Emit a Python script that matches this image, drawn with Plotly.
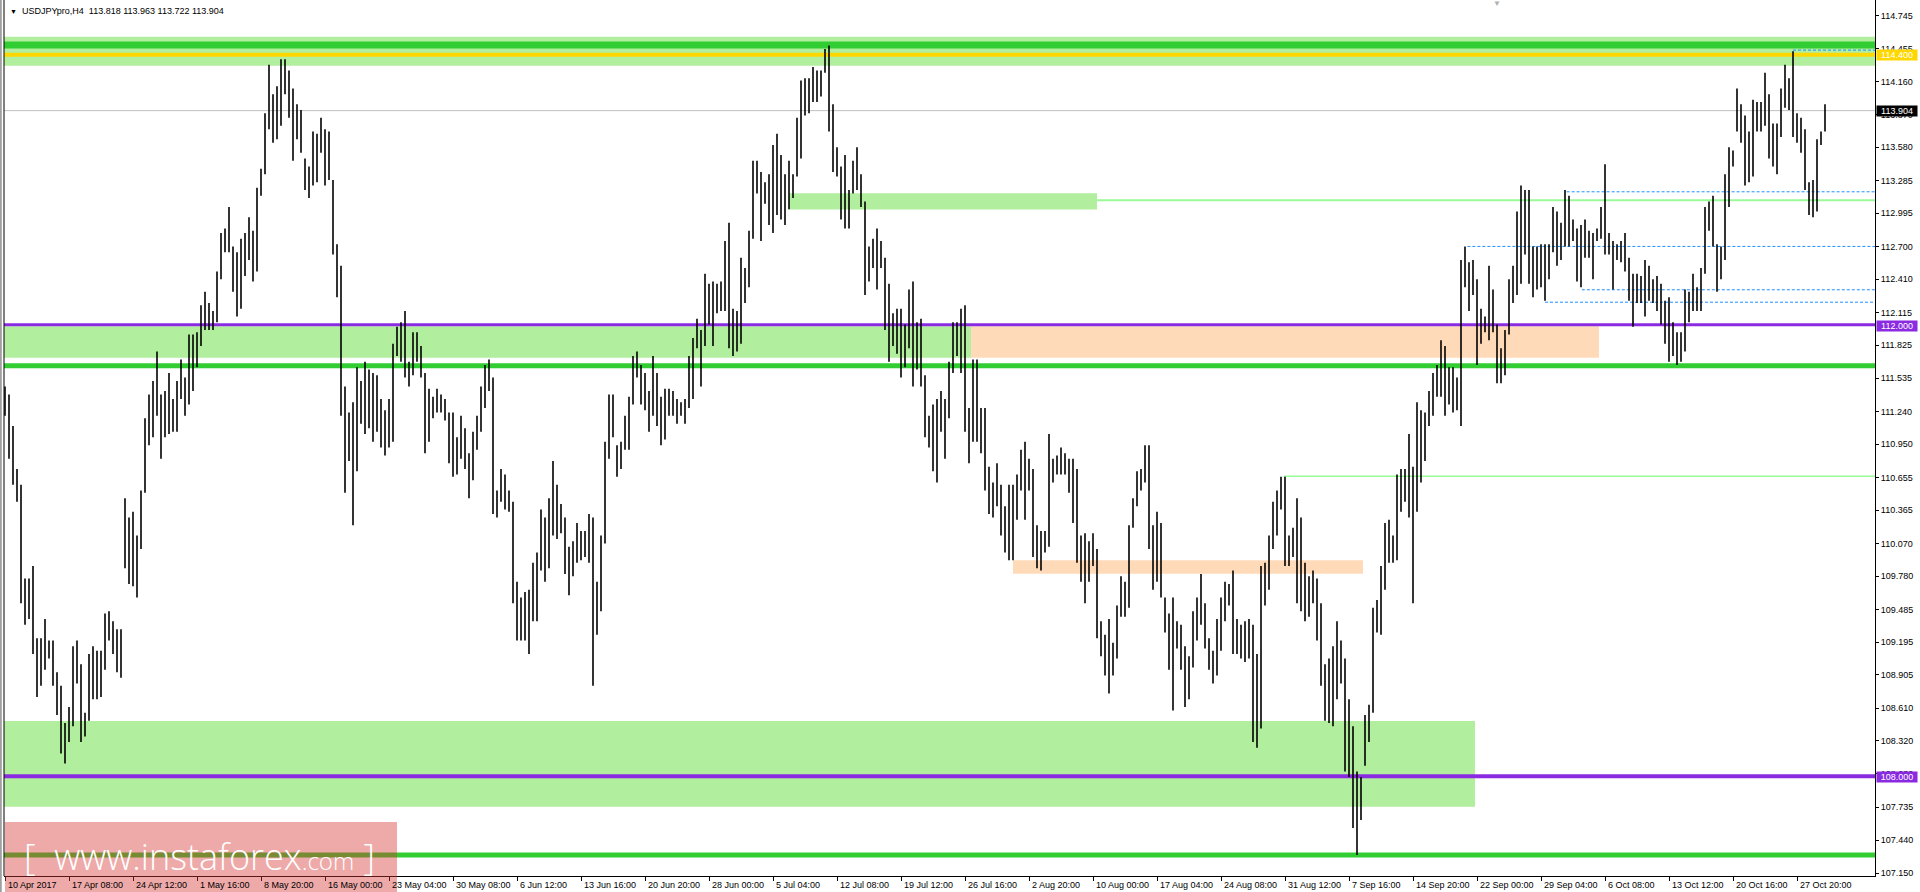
import plotly.graph_objects as go

# ---------------- data ----------------
chart_title = "USDJPYpro,H4\u00a0\u00a0113.818 113.963 113.722 113.904"

tick_labels = ["10 Apr 2017", "17 Apr 08:00", "24 Apr 12:00", "1 May 16:00", "8 May 20:00",
               "16 May 00:00", "23 May 04:00", "30 May 08:00", "6 Jun 12:00", "13 Jun 16:00",
               "20 Jun 20:00", "28 Jun 00:00", "5 Jul 04:00", "12 Jul 08:00", "19 Jul 12:00",
               "26 Jul 16:00", "2 Aug 20:00", "10 Aug 00:00", "17 Aug 04:00", "24 Aug 08:00",
               "31 Aug 12:00", "7 Sep 16:00", "14 Sep 20:00", "22 Sep 00:00", "29 Sep 04:00",
               "6 Oct 08:00", "13 Oct 12:00", "20 Oct 16:00", "27 Oct 20:00"]
bars_per_label = 16

highs = [
    111.46, 111.39, 111.11, 110.73, 110.59, 109.76, 109.76, 109.87, 109.23, 109.23,  # 0
    109.40, 109.21, 109.21, 108.93, 108.81, 108.48, 108.62, 109.16, 109.21, 109.00,  # 10
    108.57, 109.09, 109.16, 109.12, 109.12, 109.45, 109.47, 109.38, 109.31, 109.31,  # 20
    110.47, 110.30, 110.35, 110.14, 110.54, 111.18, 111.39, 111.51, 111.77, 111.39,  # 30
    111.42, 111.58, 111.35, 111.51, 111.70, 111.54, 111.92, 111.92, 111.94, 112.18,  # 40
    112.30, 112.20, 112.13, 112.48, 112.82, 112.86, 113.05, 112.70, 112.65, 112.77,  # 50
    112.82, 112.96, 112.84, 113.22, 113.39, 113.88, 114.31, 114.05, 114.12, 114.36,  # 60
    114.36, 114.26, 114.10, 113.96, 113.91, 113.48, 113.41, 113.72, 113.70, 113.84,  # 70
    113.74, 113.72, 113.29, 112.72, 112.53, 111.46, 111.23, 111.32, 111.63, 111.51,  # 80
    111.68, 111.61, 111.58, 111.56, 111.35, 111.25, 111.35, 111.84, 111.99, 112.03,  # 90
    112.13, 111.68, 111.94, 111.94, 111.82, 111.58, 111.44, 111.37, 111.44, 111.39,  # 100
    111.35, 111.23, 111.23, 111.01, 111.20, 111.09, 110.87, 111.06, 111.20, 111.46,  # 110
    111.65, 111.70, 111.54, 110.54, 110.73, 110.68, 110.54, 110.44, 109.73, 109.59,  # 120
    109.64, 109.66, 109.90, 109.99, 110.37, 110.30, 110.47, 110.80, 110.59, 110.42,  # 130
    110.30, 110.04, 110.09, 110.25, 110.18, 110.18, 110.33, 110.30, 109.73, 110.14,  # 140
    110.97, 111.39, 111.39, 110.94, 110.97, 111.20, 111.37, 111.73, 111.77, 111.65,  # 150
    111.58, 111.42, 111.73, 111.58, 111.37, 111.44, 111.44, 111.42, 111.35, 111.32,  # 160
    111.35, 111.73, 111.89, 112.06, 111.96, 112.46, 112.37, 112.39, 112.37, 112.39,  # 170
    112.75, 112.91, 112.15, 112.13, 112.60, 112.51, 112.84, 113.46, 113.46, 113.36,  # 180
    113.27, 113.34, 113.60, 113.70, 113.51, 113.34, 113.46, 113.34, 113.84, 114.17,  # 190
    114.19, 114.19, 114.29, 114.26, 114.26, 114.45, 114.48, 113.96, 113.58, 113.41,  # 200
    113.51, 113.20, 113.46, 113.58, 113.34, 113.10, 112.70, 112.77, 112.86, 112.75,  # 210
    112.60, 112.37, 112.11, 112.15, 112.15, 112.01, 112.32, 112.39, 112.03, 112.06,  # 220
    111.56, 111.20, 111.30, 111.35, 111.42, 111.35, 111.68, 112.03, 112.03, 112.15,  # 230
    112.18, 111.27, 111.70, 111.70, 111.27, 111.27, 110.75, 110.61, 110.78, 110.59,  # 240
    110.40, 110.59, 110.59, 110.68, 110.90, 110.97, 110.82, 110.73, 110.23, 110.18,  # 250
    110.18, 111.04, 110.82, 110.85, 110.92, 110.87, 110.82, 110.82, 110.73, 110.14,  # 260
    110.16, 110.09, 110.16, 110.02, 109.38, 109.26, 109.40, 109.19, 109.52, 109.78,  # 270
    109.73, 110.23, 110.47, 110.71, 110.73, 110.94, 110.94, 110.23, 110.35, 110.25,  # 280
    109.59, 109.45, 109.59, 109.38, 109.35, 109.16, 109.07, 109.47, 109.59, 109.80,  # 290
    109.54, 109.23, 109.12, 109.40, 109.59, 109.73, 109.71, 109.83, 109.40, 109.35,  # 300
    109.38, 109.40, 109.35, 109.09, 109.87, 109.90, 110.14, 110.44, 110.54, 110.66,  # 310
    110.66, 110.14, 110.21, 110.47, 110.30, 109.90, 109.78, 109.83, 109.76, 109.54,  # 320
    109.00, 109.05, 109.16, 109.38, 109.21, 109.05, 108.69, 108.45, 108.05, 108.00,  # 330
    108.55, 108.64, 109.50, 109.57, 109.87, 110.25, 110.28, 110.14, 110.68, 110.73,  # 340
    110.73, 111.04, 110.75, 111.32, 111.25, 111.23, 111.42, 111.58, 111.65, 111.87,  # 350
    111.82, 111.63, 111.63, 111.54, 112.58, 112.70, 112.56, 112.58, 112.41, 112.15,  # 360
    112.08, 112.53, 112.32, 112.01, 111.80, 111.96, 112.41, 112.53, 113.01, 113.24,  # 370
    113.20, 113.20, 112.70, 112.70, 112.72, 112.72, 112.72, 113.05, 113.01, 112.91,  # 380
    113.20, 113.15, 112.94, 112.86, 112.89, 112.94, 112.84, 112.82, 112.86, 113.05,  # 390
    113.43, 112.82, 112.75, 112.72, 112.75, 112.82, 112.60, 112.46, 112.46, 112.44,  # 400
    112.58, 112.53, 112.41, 112.44, 112.37, 112.22, 112.25, 112.03, 111.94, 111.94,  # 410
    112.32, 112.30, 112.46, 112.34, 112.51, 113.05, 113.10, 113.15, 112.72, 112.70,  # 420
    113.34, 113.58, 113.55, 114.10, 113.96, 113.86, 113.72, 114.00, 113.98, 113.98,  # 430
    114.24, 114.05, 113.79, 113.79, 114.10, 114.31, 114.19, 114.43, 113.88, 113.84,  # 440
    113.74, 113.27, 113.29, 113.65, 113.72, 113.96,                                  # 450
]

lows = [
    111.20, 110.82, 110.59, 110.44, 109.54, 109.35, 109.40, 109.09, 108.71, 108.81,  # 0
    108.95, 109.05, 108.81, 108.55, 108.21, 108.12, 108.31, 108.45, 108.83, 108.31,  # 10
    108.36, 108.50, 108.69, 108.69, 108.71, 108.95, 109.21, 109.09, 108.93, 108.88,  # 20
    109.85, 109.71, 109.69, 109.59, 110.02, 110.52, 110.94, 111.01, 111.20, 110.82,  # 30
    111.01, 111.04, 111.06, 111.06, 111.35, 111.20, 111.30, 111.42, 111.63, 111.82,  # 40
    111.96, 111.96, 111.96, 112.03, 112.41, 112.65, 112.65, 112.30, 112.08, 112.15,  # 50
    112.44, 112.58, 112.39, 112.48, 113.15, 113.34, 113.74, 113.62, 113.65, 113.77,  # 60
    114.05, 113.84, 113.46, 113.65, 113.53, 113.20, 113.13, 113.24, 113.27, 113.53,  # 70
    113.24, 113.29, 112.63, 112.25, 111.20, 110.52, 110.80, 110.23, 110.71, 111.13,  # 80
    111.04, 111.09, 110.97, 111.06, 110.92, 110.85, 110.92, 110.97, 111.73, 111.68,  # 90
    111.54, 111.46, 111.56, 111.68, 111.54, 110.87, 110.97, 111.18, 111.23, 111.23,  # 100
    111.16, 110.78, 110.66, 110.68, 110.82, 110.73, 110.47, 110.63, 110.90, 111.06,  # 110
    111.27, 111.42, 110.33, 110.30, 110.44, 110.37, 110.35, 109.54, 109.21, 109.21,  # 120
    109.21, 109.09, 109.38, 109.38, 109.83, 109.73, 109.85, 110.14, 110.11, 110.16,  # 130
    109.80, 109.61, 109.78, 109.90, 109.92, 109.95, 109.90, 108.81, 109.26, 109.47,  # 140
    110.07, 110.82, 111.01, 110.66, 110.73, 110.90, 110.90, 111.30, 111.54, 111.30,  # 150
    111.25, 111.06, 111.20, 111.11, 110.94, 110.99, 111.20, 111.20, 111.13, 111.20,  # 160
    111.13, 111.27, 111.35, 111.80, 111.46, 111.82, 112.01, 111.82, 112.11, 112.13,  # 170
    112.13, 111.80, 111.73, 111.77, 111.84, 112.20, 112.34, 112.77, 113.17, 112.75,  # 180
    113.08, 112.89, 112.82, 112.98, 112.94, 112.89, 113.03, 113.13, 113.32, 113.48,  # 190
    113.86, 113.88, 113.98, 113.98, 114.03, 114.24, 113.72, 113.36, 113.32, 112.94,  # 200
    112.86, 112.86, 113.17, 113.20, 113.05, 112.27, 112.39, 112.51, 112.32, 112.51,  # 210
    111.96, 111.68, 111.82, 111.75, 111.54, 111.63, 111.80, 111.46, 111.61, 111.46,  # 220
    111.01, 110.92, 110.71, 110.61, 111.06, 110.82, 111.18, 111.58, 111.73, 111.58,  # 230
    111.06, 110.78, 110.97, 110.97, 110.87, 110.54, 110.33, 110.30, 110.40, 110.14,  # 240
    109.99, 109.92, 109.92, 110.28, 110.54, 110.28, 110.54, 109.95, 109.85, 109.83,  # 250
    109.99, 110.04, 110.61, 110.68, 110.68, 110.68, 110.52, 110.25, 109.90, 109.73,  # 260
    109.54, 109.73, 109.87, 109.23, 109.07, 108.90, 108.74, 108.90, 109.05, 109.42,  # 270
    109.42, 109.50, 110.21, 110.40, 110.54, 110.61, 110.02, 109.66, 109.73, 109.59,  # 280
    109.28, 108.95, 108.59, 109.14, 108.95, 108.62, 108.69, 108.97, 109.21, 109.35,  # 290
    109.14, 108.95, 108.83, 108.90, 109.12, 109.38, 109.52, 109.09, 109.09, 109.05,  # 300
    109.02, 109.05, 108.31, 108.26, 108.43, 109.52, 109.66, 110.02, 110.14, 110.37,  # 310
    109.87, 109.87, 109.95, 109.54, 109.47, 109.38, 109.42, 109.54, 109.21, 108.81,  # 320
    108.50, 108.48, 108.45, 108.69, 108.83, 108.05, 108.00, 107.55, 107.31, 107.62,  # 330
    108.10, 108.31, 108.57, 109.28, 109.26, 109.66, 109.90, 109.90, 109.92, 110.35,  # 340
    110.44, 110.30, 109.54, 110.35, 110.61, 110.80, 111.11, 111.20, 111.37, 111.37,  # 350
    111.20, 111.30, 111.23, 111.25, 111.11, 112.34, 112.13, 112.27, 111.65, 111.84,  # 360
    111.94, 111.87, 111.94, 111.49, 111.49, 111.56, 111.92, 112.20, 112.27, 112.37,  # 370
    112.63, 112.37, 112.25, 112.32, 112.34, 112.22, 112.41, 112.65, 112.53, 112.58,  # 380
    112.70, 112.70, 112.75, 112.39, 112.34, 112.60, 112.60, 112.41, 112.75, 112.77,  # 390
    112.63, 112.63, 112.32, 112.58, 112.56, 112.48, 112.22, 111.99, 112.20, 112.20,  # 400
    112.08, 112.22, 112.20, 112.13, 112.01, 111.84, 111.68, 111.73, 111.65, 111.68,  # 410
    111.77, 112.03, 112.13, 112.13, 112.13, 112.46, 112.84, 112.70, 112.30, 112.41,  # 420
    112.58, 113.05, 113.41, 113.72, 113.62, 113.24, 113.27, 113.32, 113.72, 113.72,  # 430
    113.77, 113.48, 113.41, 113.34, 113.67, 113.93, 113.91, 113.67, 113.62, 113.53,  # 440
    113.20, 112.98, 112.96, 113.01, 113.60, 113.72,                                  # 450
]

price_ticks = [114.745, 114.455, 114.160, 113.870, 113.580, 113.285, 112.995, 112.700,
               112.410, 112.115, 111.825, 111.535, 111.240, 110.950, 110.655, 110.365,
               110.070, 109.780, 109.485, 109.195, 108.905, 108.610, 108.320, 108.030,
               107.735, 107.440, 107.150]

current_price = 113.904
level_labels = [(114.400, "#FFD700"), (113.904, "#000000"), (112.000, "#8A2BE2"), (108.000, "#8A2BE2")]

# ---------------- layout constants ----------------
W, H = 1920, 892
ML, MR, MT, MB = 4, 45, 0, 16
X_RANGE = [-0.25, 467.5]
Y_RANGE = [107.124, 114.884]
FONT = "Tahoma, 'Liberation Sans', Arial, sans-serif"

LIGHT_GREEN = "#B1EE9E"
LIME = "#32CD32"
PALE = "#98FB98"
PEACH = "#FFDAB9"
PURPLE = "#8A2BE2"
BLUE = "#1E90FF"

# ---------------- bars ----------------
bx, by = [], []
for i, (hi, lo) in enumerate(zip(highs, lows)):
    bx += [i, i, None]
    by += [lo, hi, None]

fig = go.Figure()
fig.add_trace(go.Scatter(x=bx, y=by, mode="lines",
                         line=dict(color="black", width=1.6),
                         hoverinfo="skip", showlegend=False))

shapes = []


def band(y0, y1, color, x0=None, x1=None):
    if x0 is None:
        x0 = X_RANGE[0]
    if x1 is None:
        x1 = X_RANGE[1]
    shapes.append(dict(type="rect", xref="x", yref="y", x0=x0, x1=x1, y0=y0, y1=y1,
                       fillcolor=color, line=dict(width=0), layer="below"))


def hline(y, color, width, x0=None, x1=None, dash="solid"):
    if x0 is None:
        x0 = X_RANGE[0]
    if x1 is None:
        x1 = X_RANGE[1]
    shapes.append(dict(type="line", xref="x", yref="y", x0=x0, x1=x1, y0=y, y1=y,
                       line=dict(color=color, width=width, dash=dash), layer="below"))


# zones
band(114.302, 114.559, LIGHT_GREEN)
band(113.028, 113.171, LIGHT_GREEN, 196, 273)
band(111.714, 111.994, LIGHT_GREEN, None, 241.5)
band(111.714, 111.994, PEACH, 241.5, 398.5)
band(109.801, 109.920, PEACH, 252, 339.5)
band(107.737, 108.496, LIGHT_GREEN, None, 367.5)

# lines
hline(current_price, "#C0C0C0", 1)
hline(114.485, LIME, 7)
hline(114.400, "#FFD700", 4)
hline(113.109, PALE, 2, 273)
hline(110.665, PALE, 1.5, 319.75)
hline(112.008, PURPLE, 3)
hline(111.643, LIME, 5)
hline(108.008, PURPLE, 4)
hline(107.310, LIME, 5)

for yv, xs in [(114.44, 447), (113.185, 390.4), (112.701, 365.6), (112.317, 394.2), (112.207, 385)]:
    hline(yv, BLUE, 1, xs, None, dash="3px,2px")

# left border
shapes.append(dict(type="line", xref="paper", yref="paper", x0=0, x1=0, y0=0, y1=1,
                   line=dict(color="black", width=1)))
shapes.append(dict(type="line", xref="paper", yref="paper", x0=-3.2 / (W - ML - MR),
                   x1=-3.2 / (W - ML - MR), y0=-MB / (H - MT - MB), y1=1,
                   line=dict(color="#A0A0A0", width=2)))

# watermark box
pw, ph = W - ML - MR, H - MT - MB
shapes.append(dict(type="rect", xref="paper", yref="paper",
                   x0=(5 - ML) / pw, x1=(397 - ML) / pw,
                   y0=(ph - (H - MT)) / ph, y1=(ph - (822 - MT)) / ph,
                   fillcolor="rgba(215,50,50,0.42)", line=dict(width=0), layer="above"))

annotations = []
# x tick labels (left aligned at tick)
for k, lab in enumerate(tick_labels):
    annotations.append(dict(x=k * bars_per_label, y=0, xref="x", yref="paper",
                            text=lab, showarrow=False, xanchor="left", yanchor="top",
                            xshift=1, yshift=-2, font=dict(family=FONT, size=9, color="black")))

# coloured price labels on the right
for yv, col in level_labels:
    annotations.append(dict(x=1, y=yv, xref="paper", yref="y", text=f"{yv:.3f}",
                            showarrow=False, xanchor="left", yanchor="middle", xshift=1,
                            bgcolor=col, width=40, height=10, borderpad=0,
                            font=dict(family=FONT, size=9, color="white")))

# title
annotations.append(dict(x=(8 - ML) / pw, y=(ph - 11) / ph, xref="paper", yref="paper",
                        text="\u25BC", showarrow=False, xanchor="left", yanchor="middle",
                        font=dict(family=FONT, size=7, color="black")))
annotations.append(dict(x=(20 - ML) / pw, y=(ph - 11) / ph, xref="paper", yref="paper",
                        text=chart_title, showarrow=False, xanchor="left", yanchor="middle",
                        font=dict(family=FONT, size=9, color="black")))
# chart shift marker
annotations.append(dict(x=(1497 - ML) / pw, y=(ph - 3) / ph, xref="paper", yref="paper",
                        text="\u25BC", showarrow=False, xanchor="center", yanchor="middle",
                        font=dict(family=FONT, size=8, color="#B0B0B0")))
# watermark text
annotations.append(dict(x=(22 - ML) / pw, y=(ph - (856 - MT)) / ph, xref="paper", yref="paper",
                        text="[\u00a0\u00a0www.instaforex<span style='font-size:24px'>.com</span>\u00a0]",
                        showarrow=False, xanchor="left", yanchor="middle",
                        font=dict(family="'Open Sans', 'Liberation Sans', sans-serif", size=36,
                                  color="white", weight=300)))

fig.update_layout(
    width=W, height=H, autosize=False,
    margin=dict(l=ML, r=MR, t=MT, b=MB, pad=0),
    paper_bgcolor="white", plot_bgcolor="white",
    showlegend=False,
    shapes=shapes, annotations=annotations,
    xaxis=dict(range=X_RANGE, showgrid=False, zeroline=False, showline=True,
               linecolor="black", linewidth=1,
               tickvals=[k * bars_per_label for k in range(len(tick_labels))],
               showticklabels=False, ticks="outside", ticklen=4, tickcolor="black"),
    yaxis=dict(range=Y_RANGE, side="right", showgrid=False, zeroline=False, showline=True,
               linecolor="black", linewidth=1, tickvals=price_ticks,
               ticktext=[f"{v:.3f}" for v in price_ticks],
               ticks="outside", ticklen=3, tickcolor="black",
               tickfont=dict(family=FONT, size=9, color="black")),
)

fig.write_html("out.html", include_plotlyjs=True, full_html=True,
               config={"displayModeBar": False, "staticPlot": True},
               post_script="document.body.style.margin='0';document.body.style.overflow='hidden';")
